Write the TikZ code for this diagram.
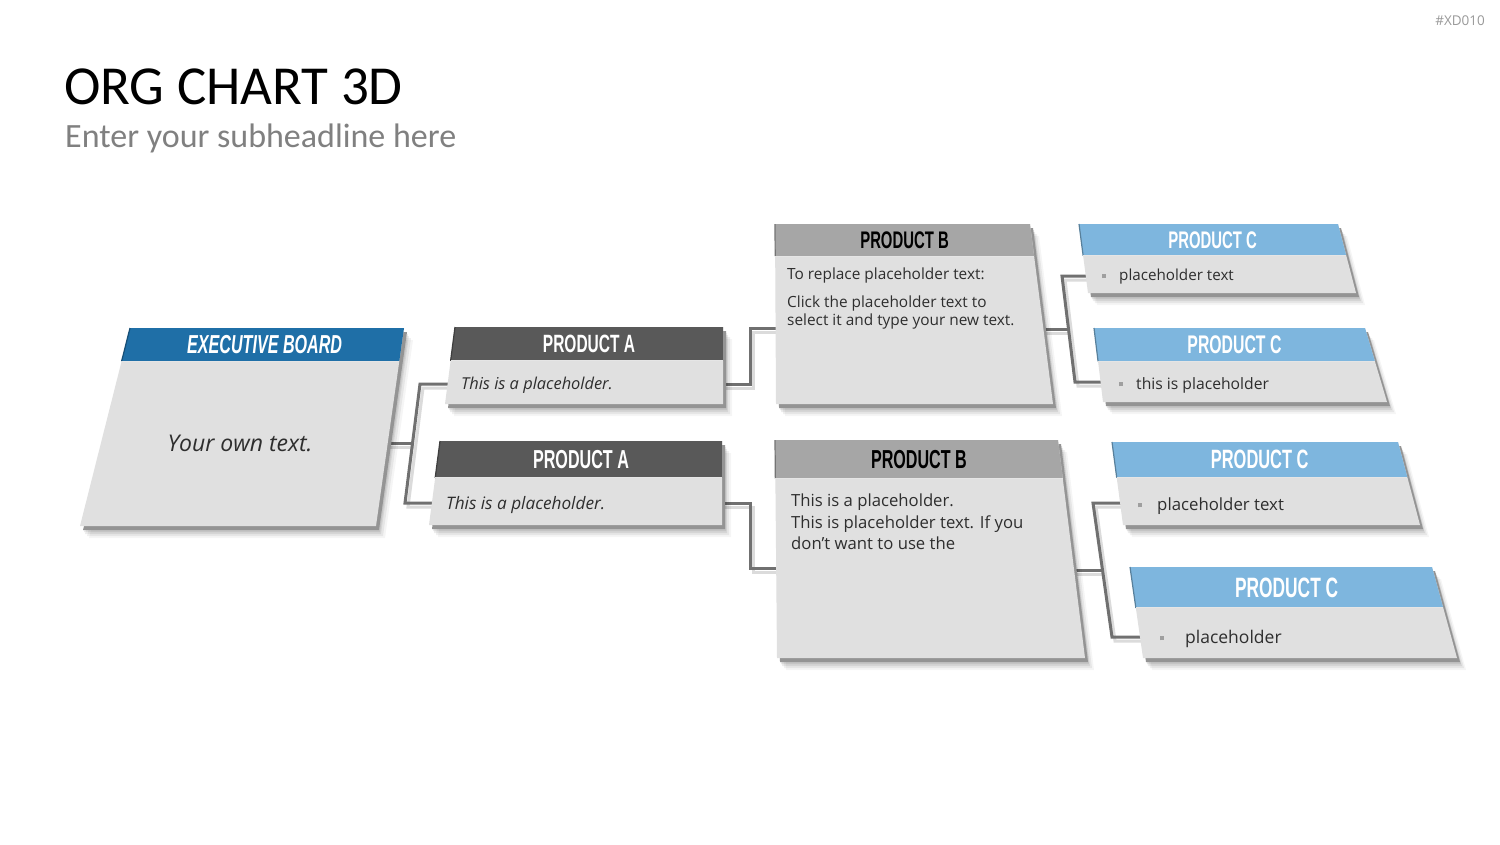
\documentclass[tikz,border=0pt]{standalone}
\usepackage{fontspec}
\setmainfont{Open Sans}
\newfontfamily\titlefont{Carlito}
\newfontfamily\headfont{Liberation Sans}[FakeStretch=0.62]
\usetikzlibrary{calc}

\definecolor{boardblue}{RGB}{31,111,167}
\definecolor{prodadark}{RGB}{89,89,89}
\definecolor{prodbgray}{RGB}{166,166,166}
\definecolor{prodcblue}{RGB}{126,182,222}
\definecolor{facegray}{RGB}{224,224,224}
\definecolor{edgegray}{RGB}{148,148,148}
\definecolor{linkgray}{RGB}{112,112,112}

% tilted slab: #1 name, #2-#5 corners (tl,tr,br,bl), #6 header share, #7 header colour, #8 head style, #9 head text
\newcommand{\slab}[9]{%
  \coordinate (#1-tl) at #2; \coordinate (#1-tr) at #3;
  \coordinate (#1-br) at #4; \coordinate (#1-bl) at #5;
  \coordinate (#1-hl) at ($(#1-tl)!#6!(#1-bl)$);
  \coordinate (#1-hr) at ($(#1-tr)!#6!(#1-br)$);
  \foreach \dx/\dy/\op in {9/12/.04,7/10/.06,5/8/.07,4/6/.08}
    \fill[black,opacity=\op,transform canvas={xshift=\dx pt,yshift=-\dy pt}]
      (#1-tl) -- (#1-tr) -- (#1-br) -- (#1-bl) -- cycle;
  \fill[edgegray,transform canvas={xshift=3pt,yshift=-4pt}]
    (#1-tl) -- (#1-tr) -- (#1-br) -- (#1-bl) -- cycle;
  \fill[facegray] (#1-tl) -- (#1-tr) -- (#1-br) -- (#1-bl) -- cycle;
  \fill[#7] (#1-tl) -- (#1-tr) -- (#1-hr) -- (#1-hl) -- cycle;
  \draw[#7!70!black,line width=1.2pt] (#1-tl) -- (#1-hl);
  \draw[white!80!gray,line width=1pt] (#1-hl) -- (#1-hr);
  \node[#8] (#1) at ($(#1-tl)!.5!(#1-hr)$) {#9};
}
\newcommand{\bul}{\textcolor{gray!75}{\rule[2.7pt]{4pt}{4pt}}}

\begin{document}
\begin{tikzpicture}[x=1pt,y=-1pt,
  link/.style={draw=linkgray,line width=3pt,
    preaction={draw=black!14,line width=3pt,transform canvas={xshift=3pt,yshift=-4pt}}},
  hdw/.style={inner sep=0,text=white,font=\headfont\bfseries\fontsize{#1}{#1}\selectfont},
  hdk/.style={inner sep=0,text=black,font=\headfont\bfseries\fontsize{#1}{#1}\selectfont},
  txt/.style={inner sep=0,anchor=base west,text=black!82,font=\fontsize{#1}{#1}\selectfont}]
\useasboundingbox (0,0) rectangle (1500,844);
\fill[white] (0,0) rectangle (1500,844);

% titles
\node[inner sep=0,anchor=base west,font=\titlefont\fontsize{55}{55}\selectfont] (title) at (64,104) {ORG CHART 3D};
\node[inner sep=0,anchor=base west,text=gray,font=\titlefont\fontsize{34}{34}\selectfont] (subtitle) at (65,147) {Enter your subheadline here};
\node[inner sep=0,anchor=base east,text=gray!80,font=\fontsize{13.5}{13.5}\selectfont] (tag) at (1485,25) {\#XD010};

% connector points
\coordinate (board-out) at (375,443.5);
\coordinate (ja-top) at (420,384);  \coordinate (ja-bot) at (405,503);
\coordinate (pa1-in) at (462,384);  \coordinate (pa2-in) at (446,503);
\coordinate (pa1-out) at (715,384); \coordinate (pb1-in) at (785,328);
\coordinate (pa2-out) at (715,503); \coordinate (pb2-in) at (785,568);
\coordinate (pb1-out) at (1040,329);
\coordinate (jb-top) at (1062,276); \coordinate (jb-bot) at (1075,382);
\coordinate (c1-in) at (1095,276);  \coordinate (c2-in) at (1110,382);
\coordinate (pb2-out) at (1070,570);
\coordinate (jc-top) at (1093,503); \coordinate (jc-bot) at (1112,637);
\coordinate (c3-in) at (1130,503);  \coordinate (c4-in) at (1150,637);

\draw[link] (board-out) -- ($(ja-top)!.5!(ja-bot)$);
\draw[link] (pa1-in) -- (ja-top) -- (ja-bot) -- (pa2-in);
\draw[link] (pa1-out) -| ($(pa1-out)!.5!(pb1-in)$) |- (pb1-in);
\draw[link] (pa2-out) -| ($(pa2-out)!.5!(pb2-in)$) |- (pb2-in);
\draw[link] (pb1-out) -- ($(jb-top)!.5!(jb-bot)$);
\draw[link] (c1-in) -- (jb-top) -- (jb-bot) -- (c2-in);
\draw[link] (pb2-out) -- ($(jc-top)!.5!(jc-bot)$);
\draw[link] (c3-in) -- (jc-top) -- (jc-bot) -- (c4-in);

% slabs
\slab{board}{(130,328)}{(404,328)}{(376,526)}{(80,526)}{.167}{boardblue}{hdw=26}{\itshape EXECUTIVE BOARD}
\slab{pa1}{(455,327)}{(723,327)}{(723,404)}{(445,404)}{.44}{prodadark}{hdw=25}{PRODUCT A}
\slab{pa2}{(440,441)}{(722,441)}{(722,525)}{(429,525)}{.44}{prodadark}{hdw=26}{PRODUCT A}
\slab{pb1}{(775,224)}{(1030,224)}{(1053,404)}{(776,404)}{.178}{prodbgray}{hdk=24}{PRODUCT B}
\slab{pb2}{(775,440)}{(1058,440)}{(1085,658)}{(777,658)}{.178}{prodbgray}{hdk=26}{PRODUCT B}
\slab{c1}{(1079,224)}{(1338,224)}{(1356,293)}{(1088,293)}{.46}{prodcblue}{hdw=24}{PRODUCT C}
\slab{c2}{(1094,328)}{(1365,328)}{(1387,402)}{(1103,402)}{.45}{prodcblue}{hdw=25.5}{PRODUCT C}
\slab{c3}{(1112,442)}{(1398,442)}{(1420,525)}{(1123,525)}{.43}{prodcblue}{hdw=26.5}{PRODUCT C}
\slab{c4}{(1130,567)}{(1432,567)}{(1457,658)}{(1143,658)}{.45}{prodcblue}{hdw=28}{PRODUCT C}

% texts
\node[inner sep=0,text=black!82,font=\itshape\fontsize{23}{23}\selectfont] (board-txt) at (240,443) {Your own text.};
\node[txt=16.4,font=\itshape\fontsize{16.4}{16.4}\selectfont] (pa1-txt) at (461,389) {This is a placeholder.};
\node[txt=17.2,font=\itshape\fontsize{17.2}{17.2}\selectfont] (pa2-txt) at (446,509) {This is a placeholder.};
\node[inner sep=0,anchor=north west,align=left,text=black!82,font=\fontsize{15.4}{18.3}\selectfont] (pb1-txt) at (787,267.5)
  {To replace placeholder text:\\[9.4pt]Click the placeholder text to\\select it and type your new text.};
\node[inner sep=0,anchor=north west,align=left,text=black!82,font=\fontsize{16.7}{21.5}\selectfont] (pb2-txt) at (791,494)
  {This is a placeholder.\\This is placeholder text. If you\\don't want to use the};
\node[txt=15.2] (c1-txt) at (1102,280.7) {\bul\hspace{13pt}placeholder text};
\node[txt=15.7] (c2-txt) at (1119,389) {\bul\hspace{13pt}this is placeholder};
\node[txt=16.8] (c3-txt) at (1138,510) {\bul\hspace{15pt}placeholder text};
\node[txt=17.5] (c4-txt) at (1160,643) {\bul\hspace{21pt}placeholder};
\end{tikzpicture}
\end{document}
